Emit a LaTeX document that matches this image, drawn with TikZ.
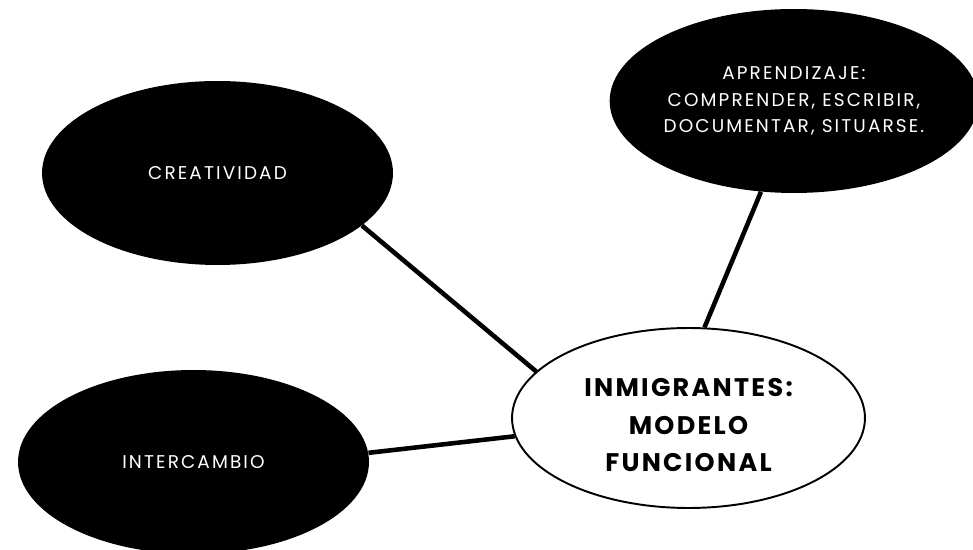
\documentclass[tikz,border=0pt]{standalone}
\usepackage{fontspec}
\setmainfont{Poppins}
\usetikzlibrary{shapes.geometric}

\begin{document}
\begin{tikzpicture}[
        x=0.02cm, y=-0.02cm,
        idea/.style={ellipse, fill=black, text=white, minimum width=7.02cm, minimum height=3.68cm, inner sep=0pt, align=center, font=\addfontfeature{LetterSpace=11.5}\fontsize{10.5}{15.3}\selectfont},
        core/.style={ellipse, draw=black, line width=1.1pt, fill=white, minimum width=7.06cm, minimum height=3.6cm, inner sep=0pt, align=center, text height=61pt, font=\bfseries\addfontfeature{LetterSpace=9}\fontsize{14.5}{21.3}\selectfont},
        link/.style={line width=2.6pt, black}
    ]
        \useasboundingbox (0,0) rectangle (973,550);
        \node[core] (modelo) at (688.5,418) {INMIGRANTES:\\MODELO\\FUNCIONAL};
        \node[idea] (creatividad) at (217.5,173) {CREATIVIDAD};
        \node[idea] (aprendizaje) at (794,101) {APRENDIZAJE:\\COMPRENDER, ESCRIBIR,\\DOCUMENTAR, SITUARSE.};
        \node[idea] (intercambio) at (193.5,462) {INTERCAMBIO};

        \draw[link] (creatividad.-20) -- (modelo.163);
        \draw[link] (aprendizaje.-110) -- (modelo.80);
        \draw[link] (intercambio.3) -- (modelo.186);
    \end{tikzpicture}
\end{document}
